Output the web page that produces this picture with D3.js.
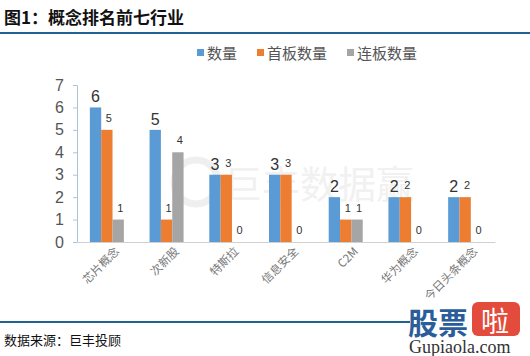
<!DOCTYPE html>
<html><head><meta charset="utf-8">
<script src="https://cdn.jsdelivr.net/npm/d3@7"></script>
<style>body{margin:0;background:#fff}svg{display:block}</style>
</head><body>
<script>
const categories = ["芯片概念","次新股","特斯拉","信息安全","C2M","华为概念","今日头条概念"];
const seriesNames = ["数量","首板数量","连板数量"];
const count = [6,5,3,3,2,2,2];
const firstBoard = [5,1,3,3,1,2,2];
const multiBoard = [1,4,0,0,1,0,0];
const yTicks = [0,1,2,3,4,5,6,7];
const colors = ["#5B9BD5","#ED7D31","#A5A5A5"];

const W=530,H=356;
const svg=d3.select("body").append("svg").attr("width",W).attr("height",H);
const font="'Noto Sans CJK SC','Microsoft YaHei',sans-serif";

// title
svg.append("text").attr("x",4).attr("y",24).text("图1：概念排名前七行业")
  .attr("font-family",font).attr("font-weight","bold").attr("font-size",17).attr("fill","#111");
svg.append("line").attr("x1",0).attr("x2",530).attr("y1",33).attr("y2",33).attr("stroke","#1f6391").attr("stroke-width",2);

// watermark
svg.append("circle").attr("cx",196).attr("cy",182).attr("r",22).attr("fill","none").attr("stroke","#efefef").attr("stroke-width",7);
svg.append("text").attr("x",224).attr("y",198).text("巨丰数据赢").attr("font-family",font).attr("font-size",38).attr("fill","#f1f1f1");

const x0=d3.scaleBand().domain(categories).range([77,495]);
const x1=d3.scaleBand().domain(seriesNames).range([0,34]);
const y=d3.scaleLinear().domain([0,7]).range([242,85]);

const g=svg.append("g");
// y axis
g.append("g").attr("transform","translate(77,0)")
  .call(d3.axisLeft(y).tickValues(yTicks).tickSize(4).tickPadding(9).tickFormat(d3.format("d")))
  .call(a=>{a.select(".domain").attr("stroke","#aac4e0");a.selectAll(".tick line").attr("stroke","#aac4e0");
    a.selectAll("text").attr("font-family","Liberation Sans, Arial").attr("font-size",16).attr("fill","#555");});
// x axis
g.append("g").attr("transform","translate(0,242)")
  .call(d3.axisBottom(x0).tickSize(0).tickPadding(6))
  .call(a=>{a.select(".domain").attr("stroke","#d0d0d0");
    a.selectAll("text").attr("font-family",font).attr("font-size",11.5).attr("fill","#777")
     .attr("text-anchor","end").attr("transform","translate(6,3) rotate(-45)").attr("dy","0.35em");});

const data=[count,firstBoard,multiBoard];
seriesNames.forEach((s,si)=>{
  const gs=g.append("g");
  categories.forEach((c,ci)=>{
    const v=data[si][ci];
    const bx=x0(c)+(x0.bandwidth()-34)/2+x1(s);
    gs.append("rect").attr("x",bx).attr("y",y(v)).attr("width",x1.bandwidth()).attr("height",242-y(v)).attr("fill",colors[si]);
    const big=si===0;
    gs.append("text").attr("x",bx+x1.bandwidth()/2+(big?0:2)).attr("y",y(v)-(big?5:8)).text(v)
      .attr("text-anchor","middle").attr("font-family","Liberation Sans, Arial")
      .attr("font-size",big?16:11).attr("fill","#333");
  });
});

// legend
const lx=[197,257,347];
seriesNames.forEach((s,i)=>{
  svg.append("rect").attr("x",lx[i]).attr("y",49).attr("width",7).attr("height",7).attr("fill",colors[i]);
  svg.append("text").attr("x",lx[i]+10).attr("y",59).text(s).attr("font-family",font).attr("font-size",15).attr("fill","#555");
});

// footer
svg.append("line").attr("x1",0).attr("x2",410).attr("y1",322).attr("y2",322).attr("stroke","#1f6391").attr("stroke-width",2);
svg.append("text").attr("x",4).attr("y",345).text("数据来源：巨丰投顾").attr("font-family",font).attr("font-size",13).attr("fill","#111");
// logo
svg.append("text").attr("x",408).attr("y",334).text("股票").attr("font-family",font).attr("font-weight","bold").attr("font-size",30).attr("fill","#2a5d9a");
svg.append("rect").attr("x",472).attr("y",302).attr("width",48).attr("height",34).attr("rx",6).attr("fill","#e34b3c");
svg.append("text").attr("x",481).attr("y",332).text("啦").attr("font-family",font).attr("font-size",28).attr("fill","#fff");
svg.append("text").attr("x",409).attr("y",353).text("Gupiaola.com").attr("font-family","Liberation Serif, serif").attr("font-size",18).attr("fill","#333");
</script>
</body></html>
